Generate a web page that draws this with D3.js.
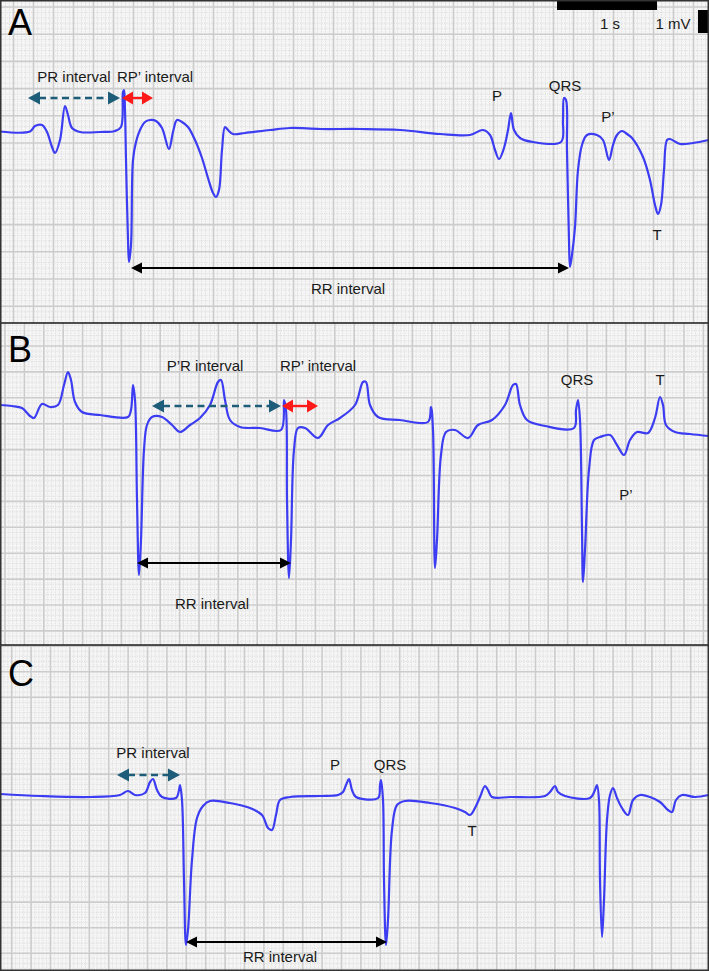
<!DOCTYPE html>
<html><head><meta charset="utf-8">
<script src="https://cdn.jsdelivr.net/npm/d3@7"></script>
<style>html,body{margin:0;padding:0;background:#fff}svg{display:block}</style>
</head><body>
<script>
// ---- DATA (time in s, amplitude in mV) ----
const traceA = [[0.00,-0.03],[0.30,-0.03],[0.35,0.08],[0.42,0.10],[0.47,-0.04],[0.52,-0.34],[0.55,-0.46],[0.60,-0.20],[0.65,0.48],[0.68,0.30],[0.72,0.04],[0.80,-0.04],[1.00,-0.04],[1.15,-0.02],[1.21,0.06],[1.23,0.76],[1.24,0.80],[1.25,0.40],[1.26,-0.60],[1.28,-2.20],[1.29,-2.64],[1.31,-2.30],[1.33,-0.60],[1.36,-0.24],[1.40,0.00],[1.45,0.16],[1.50,0.20],[1.56,0.18],[1.62,0.04],[1.69,-0.38],[1.73,-0.04],[1.77,0.20],[1.82,0.16],[1.88,0.06],[1.95,-0.20],[2.02,-0.56],[2.08,-0.96],[2.13,-1.26],[2.16,-1.34],[2.19,-1.20],[2.22,-0.40],[2.25,0.06],[2.28,0.00],[2.33,-0.08],[2.45,-0.06],[2.70,0.00],[2.90,0.04],[3.20,0.02],[3.60,0.02],[4.00,0.00],[4.40,-0.08],[4.70,-0.10],[4.83,0.00],[4.90,-0.10],[4.95,-0.40],[4.99,-0.58],[5.04,-0.36],[5.08,0.00],[5.11,0.34],[5.14,0.00],[5.20,-0.16],[5.33,-0.24],[5.61,-0.24],[5.63,0.20],[5.64,0.64],[5.66,0.60],[5.67,-0.40],[5.69,-2.20],[5.70,-2.74],[5.72,-2.50],[5.75,-1.94],[5.78,-0.80],[5.82,-0.30],[5.87,-0.10],[5.97,-0.10],[6.03,-0.20],[6.09,-0.60],[6.13,-0.30],[6.17,-0.10],[6.22,-0.02],[6.27,-0.08],[6.32,-0.16],[6.43,-0.54],[6.50,-1.00],[6.55,-1.50],[6.58,-1.68],[6.61,-1.50],[6.64,-0.80],[6.67,-0.20],[6.70,-0.18],[6.80,-0.28],[6.93,-0.26],[7.09,-0.20]];
const traceB = [[0.00,0.10],[0.12,0.08],[0.22,0.04],[0.30,-0.12],[0.34,-0.16],[0.42,0.12],[0.50,0.06],[0.58,0.10],[0.64,0.50],[0.68,0.76],[0.71,0.60],[0.75,0.16],[0.82,-0.04],[1.00,-0.10],[1.28,-0.14],[1.31,0.00],[1.33,0.50],[1.35,0.20],[1.37,-1.80],[1.39,-3.30],[1.41,-2.60],[1.44,-0.80],[1.47,-0.30],[1.52,-0.14],[1.62,-0.14],[1.72,-0.30],[1.80,-0.44],[1.90,-0.30],[2.00,-0.16],[2.10,0.10],[2.18,0.56],[2.21,0.60],[2.25,0.20],[2.30,-0.20],[2.40,-0.34],[2.60,-0.36],[2.81,-0.40],[2.84,0.20],[2.86,0.00],[2.87,-1.80],[2.89,-3.36],[2.91,-2.60],[2.94,-0.80],[2.98,-0.36],[3.05,-0.36],[3.18,-0.56],[3.28,-0.30],[3.40,-0.16],[3.55,0.10],[3.63,0.56],[3.66,0.56],[3.70,0.10],[3.78,-0.14],[4.00,-0.20],[4.28,-0.24],[4.31,0.06],[4.33,-0.40],[4.35,-3.16],[4.37,-2.60],[4.41,-0.90],[4.46,-0.44],[4.55,-0.40],[4.68,-0.56],[4.78,-0.30],[4.92,-0.20],[5.05,0.10],[5.13,0.50],[5.16,0.52],[5.20,0.10],[5.27,-0.20],[5.45,-0.32],[5.74,-0.36],[5.76,0.00],[5.78,0.20],[5.80,-0.20],[5.82,-2.40],[5.83,-3.44],[5.85,-2.80],[5.89,-1.20],[5.94,-0.60],[6.00,-0.54],[6.10,-0.50],[6.17,-0.70],[6.24,-0.90],[6.30,-0.60],[6.37,-0.44],[6.48,-0.46],[6.55,-0.16],[6.60,0.26],[6.63,0.10],[6.66,-0.30],[6.75,-0.44],[6.90,-0.48],[7.09,-0.52]];
const traceC = [[0.00,0.02],[0.40,-0.02],[0.90,-0.04],[1.20,0.00],[1.28,0.08],[1.35,0.00],[1.45,0.04],[1.50,0.26],[1.53,0.32],[1.57,0.10],[1.62,-0.04],[1.76,-0.06],[1.79,0.10],[1.80,0.20],[1.82,-0.10],[1.84,-1.70],[1.86,-3.00],[1.88,-2.70],[1.92,-1.30],[1.97,-0.46],[2.03,-0.22],[2.10,-0.12],[2.30,-0.16],[2.50,-0.26],[2.62,-0.40],[2.68,-0.66],[2.72,-0.70],[2.76,-0.40],[2.80,-0.10],[2.90,-0.04],[3.20,-0.02],[3.38,0.00],[3.43,0.06],[3.46,0.20],[3.49,0.32],[3.52,0.10],[3.56,-0.04],[3.78,-0.06],[3.80,0.20],[3.81,0.30],[3.83,-0.10],[3.84,-1.70],[3.86,-3.00],[3.88,-2.50],[3.92,-0.70],[3.97,-0.20],[4.05,-0.12],[4.30,-0.16],[4.55,-0.26],[4.65,-0.34],[4.70,-0.40],[4.75,-0.26],[4.80,-0.04],[4.85,0.18],[4.88,0.10],[4.92,-0.04],[5.10,-0.04],[5.45,-0.02],[5.50,0.06],[5.55,0.18],[5.58,0.06],[5.65,-0.02],[5.90,-0.06],[5.95,0.10],[5.97,0.20],[5.99,-0.10],[6.00,-1.70],[6.02,-2.84],[6.04,-2.10],[6.07,-0.50],[6.10,0.00],[6.13,0.14],[6.17,-0.06],[6.22,-0.26],[6.28,-0.40],[6.33,-0.10],[6.40,0.00],[6.50,-0.04],[6.60,-0.14],[6.68,-0.30],[6.72,-0.34],[6.76,-0.10],[6.82,0.00],[6.95,-0.04],[7.09,0.00]];

// interval arrows: [t0, t1, mV, kind]
const arrowsA = [[0.28,1.20,0.64,"pr"],[1.22,1.53,0.64,"rp"],[1.31,5.69,-2.76,"rr"]];
const arrowsB = [[1.52,2.81,0.08,"pr"],[2.82,3.18,0.08,"rp"],[1.37,2.91,-3.06,"rr"]];
const arrowsC = [[1.17,1.80,0.40,"pr"],[1.86,3.87,-2.94,"rr"]];
// labels: [text, t, mV]
const labelsA = [["PR interval",0.74,1.04],["RP\u2019 interval",1.55,1.04],["P",4.97,0.66],["QRS",5.65,0.86],["P\u2019",6.08,0.24],["T",6.57,-2.12],["RR interval",3.48,-3.20]];
const labelsB = [["P\u2019R interval",2.05,0.86],["RP\u2019 interval",3.18,0.86],["QRS",5.77,0.58],["T",6.60,0.58],["P\u2019",6.26,-1.72],["RR interval",2.12,-3.90]];
const labelsC = [["PR interval",1.53,0.82],["P",3.35,0.58],["QRS",3.90,0.58],["T",4.72,-0.74],["RR interval",2.80,-3.26]];
const panelNames = ["A","B","C"];

// ---- LAYOUT ----
const W = 709, H = 971;
const FONT = "Liberation Sans, Arial, sans-serif";
const panels = [
  {name:"A", top:0, bottom:323, base:130, gx0:13.5, gdx:20, gy0:7, gdy:27.2, trace:traceA, arrows:arrowsA, labels:labelsA, letterY:35},
  {name:"B", top:323, bottom:645, base:410, gx0:5, gdx:19.4, gy0:346, gdy:25.9, trace:traceB, arrows:arrowsB, labels:labelsB, letterY:362},
  {name:"C", top:645, bottom:971, base:795, gx0:11.7, gdx:19.4, gy0:671.7, gdy:25.6, trace:traceC, arrows:arrowsC, labels:labelsC, letterY:686}
];
const x = d3.scaleLinear().domain([0, 7.09]).range([0, W]);

const svg = d3.select("body").append("svg").attr("width", W).attr("height", H);
const defs = svg.append("defs");

panels.forEach((p, i) => {
  const y = d3.scaleLinear().domain([0, 1]).range([p.base, p.base - 50]);
  defs.append("clipPath").attr("id", "clip" + i)
    .append("rect").attr("x", 0).attr("y", p.top).attr("width", W).attr("height", p.bottom - p.top);
  const g = svg.append("g").attr("clip-path", `url(#clip${i})`);
  g.append("rect").attr("x", 0).attr("y", p.top).attr("width", W).attr("height", p.bottom - p.top).attr("fill", "#f5f5f5");
  const minorX = [], majorX = [], minorY = [], majorY = [];
  let k0 = Math.floor((0 - p.gx0) / p.gdx) - 1;
  for (let k = k0; p.gx0 + k * p.gdx < W + p.gdx; k++) {
    const xx = p.gx0 + k * p.gdx;
    majorX.push(xx);
    for (let j = 1; j < 5; j++) minorX.push(xx + j * p.gdx / 5);
  }
  k0 = Math.floor((p.top - p.gy0) / p.gdy) - 1;
  for (let k = k0; p.gy0 + k * p.gdy < p.bottom + p.gdy; k++) {
    const yy = p.gy0 + k * p.gdy;
    majorY.push(yy);
    for (let j = 1; j < 5; j++) minorY.push(yy + j * p.gdy / 5);
  }
  g.selectAll(".mx").data(minorX).join("line").attr("x1", d => d).attr("x2", d => d).attr("y1", p.top).attr("y2", p.bottom)
    .attr("stroke", "#dedede").attr("stroke-width", 1).attr("stroke-dasharray", "1.2,1.2");
  g.selectAll(".my").data(minorY).join("line").attr("y1", d => d).attr("y2", d => d).attr("x1", 0).attr("x2", W)
    .attr("stroke", "#dedede").attr("stroke-width", 1).attr("stroke-dasharray", "1.2,1.2");
  g.selectAll(".Mx").data(majorX).join("line").attr("x1", d => d).attr("x2", d => d).attr("y1", p.top).attr("y2", p.bottom)
    .attr("stroke", "#cccccc").attr("stroke-width", 1.6);
  g.selectAll(".My").data(majorY).join("line").attr("y1", d => d).attr("y2", d => d).attr("x1", 0).attr("x2", W)
    .attr("stroke", "#cccccc").attr("stroke-width", 1.6);

  const line = d3.line().x(d => x(d[0])).y(d => y(d[1])).curve(d3.curveCatmullRom.alpha(0.5));
  g.append("path").datum(p.trace).attr("d", line).attr("fill", "none")
    .attr("stroke", "#3c3cf2").attr("stroke-width", 2.2).attr("stroke-linejoin", "round");

  p.arrows.forEach(a => {
    const x0 = x(a[0]), x1 = x(a[1]), yy = y(a[2]);
    let color, hl, hw, dash, sw;
    if (a[3] === "pr") { color = "#1d5d7a"; hl = 12; hw = 6.5; dash = "7,4.5"; sw = 2.6; }
    else if (a[3] === "rp") { color = "#ff1a1a"; hl = 11; hw = 6.5; dash = null; sw = 2.4; }
    else { color = "#000"; hl = 11; hw = 5.5; dash = null; sw = 2; }
    g.append("line").attr("x1", x0 + hl - 1).attr("x2", x1 - hl + 1).attr("y1", yy).attr("y2", yy)
      .attr("stroke", color).attr("stroke-width", sw).attr("stroke-dasharray", dash);
    g.append("path").attr("d", `M${x0},${yy}L${x0 + hl},${yy - hw}L${x0 + hl},${yy + hw}Z`).attr("fill", color);
    g.append("path").attr("d", `M${x1},${yy}L${x1 - hl},${yy - hw}L${x1 - hl},${yy + hw}Z`).attr("fill", color);
  });

  g.selectAll(".lab").data(p.labels).join("text")
    .attr("x", d => x(d[1])).attr("y", d => y(d[2]))
    .attr("text-anchor", "middle").attr("dominant-baseline", "middle")
    .attr("font-family", FONT).attr("font-size", 15).attr("fill", "#1a1a1a")
    .text(d => d[0]);

  g.append("text").attr("x", 8).attr("y", p.letterY)
    .attr("font-family", FONT).attr("font-size", 36).attr("fill", "#000")
    .text(panelNames[i]);

  if (i === 0) {
    g.append("rect").attr("x", x(5.57)).attr("y", p.top).attr("width", x(6.57) - x(5.57)).attr("height", y(2.4) - p.top).attr("fill", "#000");
    g.append("rect").attr("x", x(6.98)).attr("y", y(2.4)).attr("width", x(7.09) - x(6.98)).attr("height", y(1.94) - y(2.4)).attr("fill", "#000");
    g.append("text").attr("x", x(6.10)).attr("y", y(2.1)).attr("text-anchor", "middle").attr("dominant-baseline", "middle")
      .attr("font-family", FONT).attr("font-size", 15).attr("fill", "#1a1a1a").text("1 s");
    g.append("text").attr("x", x(6.73)).attr("y", y(2.1)).attr("text-anchor", "middle").attr("dominant-baseline", "middle")
      .attr("font-family", FONT).attr("font-size", 15).attr("fill", "#1a1a1a").text("1 mV");
  }
});

svg.selectAll(".sep").data([323, 645]).join("line").attr("x1", 0).attr("x2", W).attr("y1", d => d).attr("y2", d => d)
  .attr("stroke", "#1a1a1a").attr("stroke-width", 1.6);
svg.append("rect").attr("x", 0.75).attr("y", 0.75).attr("width", W - 1.5).attr("height", H - 1.5)
  .attr("fill", "none").attr("stroke", "#333").attr("stroke-width", 1.5);
</script>
</body></html>
